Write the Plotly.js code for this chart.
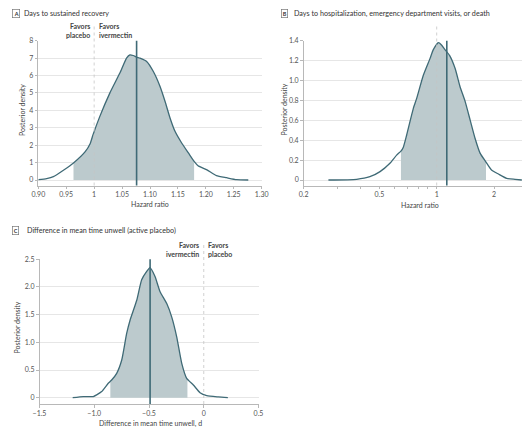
<!DOCTYPE html>
<html>
<head>
<meta charset="utf-8">
<script src="https://cdn.plot.ly/plotly-3.0.1.min.js"></script>
<style>html,body{margin:0;padding:0;background:#fff;}#chart{width:522px;height:428px;}</style>
</head>
<body>
<div id="chart"></div>
<script>
// Panel A: Days to sustained recovery (hazard ratio)
const aX = [0.90, 0.915, 0.927, 0.945, 0.963, 0.984, 0.993, 0.998, 1.010, 1.028, 1.046, 1.058, 1.064, 1.070, 1.076, 1.082, 1.094, 1.106, 1.118, 1.127, 1.136, 1.145, 1.157, 1.169, 1.179, 1.186, 1.202, 1.219, 1.237, 1.255, 1.276];
const aY = [0.02, 0.08, 0.19, 0.56, 0.98, 1.63, 2.1, 2.6, 3.64, 4.99, 6.14, 7.0, 7.19, 7.15, 7.06, 7.0, 6.81, 6.23, 5.37, 4.51, 3.55, 2.78, 2.11, 1.54, 1.07, 0.82, 0.58, 0.25, 0.13, 0.02, 0];
const aCI = [0.963, 1.179];
const aMedian = 1.076;
const aNull = 1;
const aXTicks = [0.90, 0.95, 1, 1.05, 1.10, 1.15, 1.20, 1.25, 1.30];
const aXText = ["0.90", "0.95", "1", "1.05", "1.10", "1.15", "1.20", "1.25", "1.30"];
const aYTicks = [0, 1, 2, 3, 4, 5, 6, 7, 8];
const aYText = ["0", "1", "2", "3", "4", "5", "6", "7", "8"];

// Panel B: Days to hospitalization, ED visits, or death (hazard ratio, log)
const bX = [0.27, 0.38, 0.446, 0.504, 0.568, 0.616, 0.649, 0.668, 0.695, 0.754, 0.785, 0.85, 0.922, 0.96, 1.02, 1.06, 1.105, 1.17, 1.25, 1.325, 1.41, 1.50, 1.59, 1.69, 1.815, 1.94, 2.11, 2.33, 2.58, 2.8];
const bY = [0, 0.007, 0.033, 0.084, 0.168, 0.25, 0.29, 0.33, 0.45, 0.72, 0.82, 1.05, 1.22, 1.31, 1.38, 1.357, 1.31, 1.25, 1.12, 0.94, 0.79, 0.60, 0.42, 0.27, 0.18, 0.10, 0.06, 0.017, 0.007, 0];
const bCI = [0.649, 1.815];
const bMedian = 1.13;
const bNull = 1;
const bXTicks = [0.2, 0.5, 1, 2];
const bXText = ["0.2", "0.5", "1", "2"];
const bXMinor = [0.3, 0.4, 0.6, 0.7, 0.8, 0.9];
const bYTicks = [0, 0.2, 0.4, 0.6, 0.8, 1.0, 1.2, 1.4];
const bYText = ["0", "0.2", "0.4", "0.6", "0.8", "1.0", "1.2", "1.4"];

// Panel C: Difference in mean time unwell (days)
const cX = [-1.197, -1.10, -1.009, -0.978, -0.932, -0.872, -0.841, -0.795, -0.749, -0.704, -0.673, -0.612, -0.567, -0.521, -0.491, -0.445, -0.40, -0.338, -0.293, -0.247, -0.201, -0.156, -0.095, -0.034, 0.027, 0.133, 0.22];
const cY = [0, 0.02, 0.02, 0.05, 0.11, 0.26, 0.32, 0.44, 0.68, 1.16, 1.40, 1.76, 2.13, 2.28, 2.35, 2.19, 1.92, 1.70, 1.46, 1.10, 0.62, 0.35, 0.23, 0.09, 0.036, 0.013, 0];
const cCI = [-0.853, -0.149];
const cMedian = -0.49;
const cNull = 0;
const cXTicks = [-1.5, -1.0, -0.5, 0, 0.5];
const cXText = ["−1.5", "−1.0", "−0.5", "0", "0.5"];
const cYTicks = [0, 0.5, 1.0, 1.5, 2.0, 2.5];
const cYText = ["0", "0.5", "1.0", "1.5", "2.0", "2.5"];

const FILL = "#bccacd";
const LINE = "#3f6a76";
const FONT = "Lato, 'Open Sans', sans-serif";
const W = 522, H = 428;

function interp(xs, ys, x) {
  for (let i = 0; i < xs.length - 1; i++) {
    if (x >= xs[i] && x <= xs[i + 1]) {
      const t = (x - xs[i]) / (xs[i + 1] - xs[i]);
      return ys[i] + t * (ys[i + 1] - ys[i]);
    }
  }
  return 0;
}
function band(xs, ys, ci) {
  const bx = [ci[0]], by = [interp(xs, ys, ci[0])];
  xs.forEach((x, i) => { if (x > ci[0] && x < ci[1]) { bx.push(x); by.push(ys[i]); } });
  bx.push(ci[1]); by.push(interp(xs, ys, ci[1]));
  return [bx, by];
}

const traces = [];
function panel(xs, ys, ci, xa, ya) {
  const [bx, by] = band(xs, ys, ci);
  traces.push({x: bx, y: by, xaxis: xa, yaxis: ya, type: "scatter", mode: "lines",
    fill: "tozeroy", fillcolor: FILL, line: {width: 0, color: FILL, shape: "spline", smoothing: 0.5}, hoverinfo: "skip"});
  traces.push({x: xs, y: ys, xaxis: xa, yaxis: ya, type: "scatter", mode: "lines",
    line: {width: 1.3, color: LINE, shape: "spline", smoothing: 0.5}});
}
panel(aX, aY, aCI, "x", "y");
panel(bX, bY, bCI, "x2", "y2");
panel(cX, cY, cCI, "x3", "y3");

const py = p => 1 - p / H;
const px = p => p / W;

const axisCommon = {
  showgrid: false, zeroline: false, showline: true, linecolor: "#b8b8b8", linewidth: 1,
  ticks: "outside", ticklen: 2.5, tickcolor: "#b8b8b8", tickwidth: 1,
  tickfont: {family: FONT, size: 7, color: "#555"}, tickmode: "array", fixedrange: true
};
const yCommon = Object.assign({}, axisCommon, {showgrid: true, gridcolor: "#e6e6e6", gridwidth: 1, ticklen: 2.5});

const layout = {
  width: W, height: H, margin: {l: 0, r: 0, t: 0, b: 0},
  paper_bgcolor: "#fff", plot_bgcolor: "#fff", showlegend: false,
  font: {family: FONT, size: 7, color: "#444"},
  xaxis: Object.assign({}, axisCommon, {domain: [px(38.3), px(261.7)], range: [0.9, 1.3], tickvals: aXTicks, ticktext: aXText, anchor: "y"}),
  yaxis: Object.assign({}, yCommon, {domain: [py(185.5), py(40.7)], range: [-0.316, 8], tickvals: aYTicks, ticktext: aYText, anchor: "x"}),
  xaxis2: Object.assign({}, axisCommon, {type: "log", domain: [px(303.6), 1], range: [Math.log10(0.2), 0.448], tickvals: bXTicks, ticktext: bXText, anchor: "y2",
    minor: {tickmode: "array", tickvals: bXMinor, ticks: "outside", ticklen: 2, tickcolor: "#b8b8b8", showgrid: false}}),
  yaxis2: Object.assign({}, yCommon, {domain: [py(185.5), py(40.7)], range: [-0.0553, 1.4], tickvals: bYTicks, ticktext: bYText, anchor: "x2"}),
  xaxis3: Object.assign({}, axisCommon, {domain: [px(39.5), px(258.5)], range: [-1.5, 0.5], tickvals: cXTicks, ticktext: cXText, anchor: "y3"}),
  yaxis3: Object.assign({}, yCommon, {domain: [py(404), py(259.3)], range: [-0.114, 2.5], tickvals: cYTicks, ticktext: cYText, anchor: "x3"}),
  shapes: [],
  annotations: []
};

// null lines (dotted, extend above plot) and median lines
function refLines(xref, nullX, med, topPix, axisTopPix, axisBotPix) {
  layout.shapes.push({type: "line", xref: xref, yref: "paper", x0: nullX, x1: nullX, y0: py(axisBotPix), y1: py(topPix),
    line: {color: "#c4c4c4", width: 0.8, dash: "dot"}});
  layout.shapes.push({type: "line", xref: xref, yref: "paper", x0: med, x1: med, y0: py(axisBotPix), y1: py(axisTopPix),
    line: {color: LINE, width: 1.6}});
}
refLines("x", aNull, aMedian, 25, 40.7, 185.5);
refLines("x2", bNull, bMedian, 25, 40.7, 185.5);
refLines("x3", cNull, cMedian, 243, 259.3, 404);

function favors(xref, nullX, leftText, rightText, bottomPix) {
  const f = {family: FONT, size: 7, color: "#444", weight: 700};
  layout.annotations.push({xref: xref, yref: "paper", x: nullX, y: py(bottomPix), text: leftText, showarrow: false,
    xanchor: "right", yanchor: "bottom", align: "right", xshift: -2.5, font: f});
  layout.annotations.push({xref: xref, yref: "paper", x: nullX, y: py(bottomPix), text: rightText, showarrow: false,
    xanchor: "left", yanchor: "bottom", align: "left", xshift: 2.5, font: f});
}
favors("x", aNull, "Favors<br>placebo", "Favors<br>ivermectin", 41);
favors("x2", bNull, "Favors<br>ivermectin", "Favors<br>placebo", 41);
favors("x3", cNull, "Favors<br>ivermectin", "Favors<br>placebo", 259.5);

function panelTitle(letter, bx, by, tx, text) {
  layout.annotations.push({xref: "paper", yref: "paper", x: px(bx), y: py(by), text: "<b>" + letter + "</b>", showarrow: false,
    xanchor: "center", yanchor: "middle", bordercolor: "#777", borderwidth: 0.7, borderpad: 1,
    font: {family: FONT, size: 5.5, color: "#333"}});
  layout.annotations.push({xref: "paper", yref: "paper", x: px(tx), y: py(by), text: text, showarrow: false,
    xanchor: "left", yanchor: "middle", font: {family: FONT, size: 7.2, color: "#333"}});
}
panelTitle("A", 15.7, 13.5, 22, "Days to sustained recovery");
panelTitle("B", 284.2, 13.2, 291.5, "Days to hospitalization, emergency department visits, or death");
panelTitle("C", 15.5, 230, 25, "Difference in mean time unwell (active placebo)");

function axisTitle(x, y, text, angle) {
  layout.annotations.push({xref: "paper", yref: "paper", x: px(x), y: py(y), text: text, showarrow: false,
    xanchor: "center", yanchor: "middle", textangle: angle, font: {family: FONT, size: 7, color: "#444"}});
}
axisTitle(22, 110, "Posterior density", -90);
axisTitle(150, 204, "Hazard ratio", 0);
axisTitle(283.5, 110, "Posterior density", -90);
axisTitle(420, 204.5, "Hazard ratio", 0);
axisTitle(16.5, 328, "Posterior density", -90);
axisTitle(150, 423, "Difference in mean time unwell, d", 0);

Plotly.newPlot("chart", traces, layout, {staticPlot: true, displayModeBar: false});
</script>
</body>
</html>
